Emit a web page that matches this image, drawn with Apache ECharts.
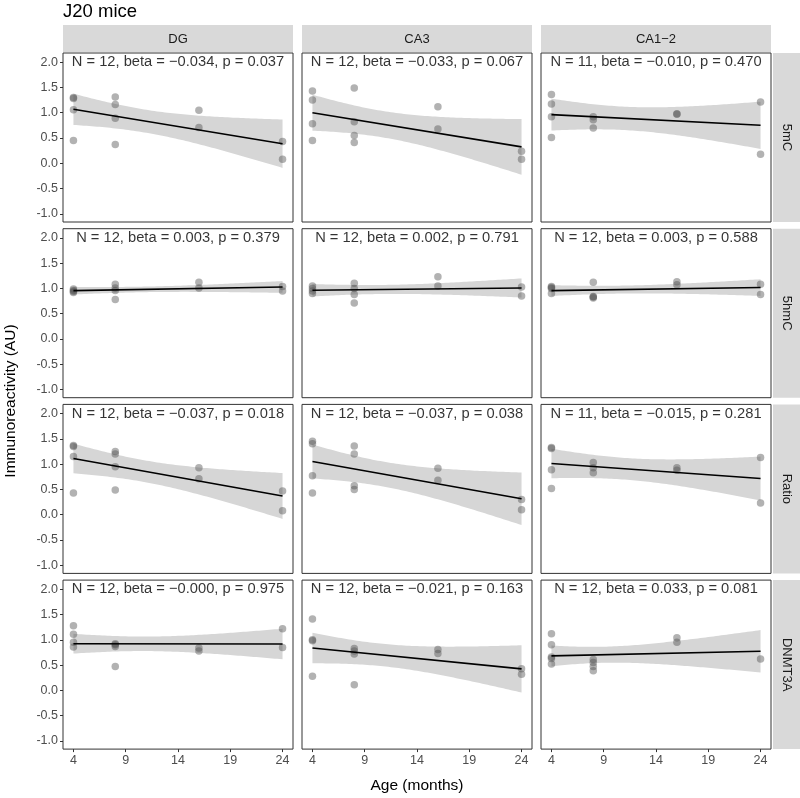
<!DOCTYPE html>
<html><head><meta charset="utf-8">
<script src="https://cdn.jsdelivr.net/npm/echarts@6/dist/echarts.min.js"></script>
<style>html,body{margin:0;padding:0;background:#fff}#c{width:800px;height:798px}</style>
</head><body><div id="c"></div>
<script>
// ---------------- data ----------------
const regions = ['DG', 'CA3', 'CA1\u22122'];
const markers = ['5mC', '5hmC', 'Ratio', 'DNMT3A'];
const xTicks = [4, 9, 14, 19, 24];
const yTicks = [-1, -0.5, 0, 0.5, 1, 1.5, 2];

const age12 = [4, 4, 4, 4, 8, 8, 8, 8, 16, 16, 24, 24];
const age11 = [4, 4, 4, 4, 8, 8, 8, 16, 16, 24, 24];
const ageDnmtCA12 = [4, 4, 4, 4, 4, 8, 8, 8, 8, 16, 16, 24];

const dg_5mC   = [1.30, 1.28, 1.06, 0.45, 1.31, 1.16, 0.89, 0.37, 1.05, 0.71, 0.43, 0.08];
const ca3_5mC  = [1.43, 1.25, 0.78, 0.45, 1.49, 0.82, 0.55, 0.41, 1.12, 0.68, 0.24, 0.08];
const ca12_5mC = [1.36, 1.17, 0.92, 0.51, 0.92, 0.86, 0.70, 0.98, 0.97, 1.21, 0.18];

const dg_5hmC   = [0.99, 0.96, 0.94, 0.92, 1.08, 1.01, 0.96, 0.78, 1.12, 1.01, 1.04, 0.95];
const ca3_5hmC  = [1.05, 1.00, 0.95, 0.90, 1.10, 1.00, 0.88, 0.71, 1.23, 1.05, 1.03, 0.85];
const ca12_5hmC = [1.04, 1.02, 1.00, 0.90, 1.12, 0.84, 0.83, 0.81, 1.13, 1.07, 1.08, 0.88];

const dg_ratio   = [1.37, 1.35, 1.15, 0.43, 1.25, 1.20, 0.95, 0.49, 0.93, 0.71, 0.47, 0.08];
const ca3_ratio  = [1.45, 1.40, 0.77, 0.43, 1.36, 1.20, 0.57, 0.50, 0.92, 0.68, 0.30, 0.10];
const ca12_ratio = [1.33, 1.31, 0.89, 0.52, 1.03, 0.93, 0.83, 0.93, 0.88, 1.13, 0.23];

const dg_dnmt3a   = [1.28, 1.11, 0.95, 0.86, 0.92, 0.90, 0.87, 0.47, 0.84, 0.78, 1.22, 0.85];
const ca3_dnmt3a  = [1.41, 1.00, 0.98, 0.28, 0.83, 0.78, 0.72, 0.11, 0.81, 0.73, 0.43, 0.32];
const ca12_dnmt3a = [1.12, 0.90, 0.66, 0.63, 0.52, 0.61, 0.55, 0.47, 0.39, 1.04, 0.95, 0.62];

const statText = [
  ['N = 12, beta = \u22120.034, p = 0.037', 'N = 12, beta = \u22120.033, p = 0.067', 'N = 11, beta = \u22120.010, p = 0.470'],
  ['N = 12, beta = 0.003, p = 0.379', 'N = 12, beta = 0.002, p = 0.791', 'N = 12, beta = 0.003, p = 0.588'],
  ['N = 12, beta = \u22120.037, p = 0.018', 'N = 12, beta = \u22120.037, p = 0.038', 'N = 11, beta = \u22120.015, p = 0.281'],
  ['N = 12, beta = \u22120.000, p = 0.975', 'N = 12, beta = \u22120.021, p = 0.163', 'N = 12, beta = 0.033, p = 0.081']
];

const panelData = [
  [[age12, dg_5mC], [age12, ca3_5mC], [age11, ca12_5mC]],
  [[age12, dg_5hmC], [age12, ca3_5hmC], [age12, ca12_5hmC]],
  [[age12, dg_ratio], [age12, ca3_ratio], [age11, ca12_ratio]],
  [[age12, dg_dnmt3a], [age12, ca3_dnmt3a], [ageDnmtCA12, ca12_dnmt3a]]
];

// t quantiles (0.975) by residual degrees of freedom
const T975 = {9: 2.262, 10: 2.228};

// ---------------- layout ----------------
const PL = [63, 302, 541];
const PW = 230;
const PT = [53, 228.7, 404.4, 580.1];
const PH = 169;
const XMIN = 3, XMAX = 25, YMIN = -1.16, YMAX = 2.18;
const FONT = '"Liberation Sans", Arial, Helvetica, sans-serif';

function lmFit(xs, ys) {
  const n = xs.length;
  const mx = xs.reduce((a, b) => a + b, 0) / n;
  const my = ys.reduce((a, b) => a + b, 0) / n;
  let sxx = 0, sxy = 0;
  for (let i = 0; i < n; i++) { sxx += (xs[i] - mx) ** 2; sxy += (xs[i] - mx) * (ys[i] - my); }
  const b = sxy / sxx, a = my - b * mx;
  let rss = 0;
  for (let i = 0; i < n; i++) rss += (ys[i] - a - b * xs[i]) ** 2;
  const s = Math.sqrt(rss / (n - 2));
  const t = T975[n - 2];
  return {
    f: x => a + b * x,
    hw: x => t * s * Math.sqrt(1 / n + (x - mx) ** 2 / sxx)
  };
}

const grids = [], xAxes = [], yAxes = [], series = [], graphics = [];
let idx = 0;
for (let r = 0; r < 4; r++) {
  for (let c = 0; c < 3; c++) {
    const [xs, ys] = panelData[r][c];
    grids.push({left: PL[c], top: PT[r], width: PW, height: PH, show: true,
      borderColor: '#333333', borderWidth: 1, backgroundColor: '#fff', containLabel: false});
    const bottomRow = r === 3, leftCol = c === 0;
    xAxes.push({type: 'value', gridIndex: idx, min: XMIN, max: XMAX, position: 'bottom',
      splitLine: {show: false}, axisLine: {show: false, onZero: false},
      axisTick: {show: bottomRow, customValues: xTicks, length: 3, lineStyle: {color: '#333333'}},
      axisLabel: {show: bottomRow, customValues: xTicks, margin: 5, fontSize: 12.5, color: '#4D4D4D', fontFamily: FONT}
    });
    yAxes.push({type: 'value', gridIndex: idx, min: YMIN, max: YMAX, position: 'left',
      splitLine: {show: false}, axisLine: {show: false, onZero: false},
      axisTick: {show: leftCol, customValues: yTicks, length: 3, lineStyle: {color: '#333333'}},
      axisLabel: {show: leftCol, customValues: yTicks, margin: 5, fontSize: 12.5, color: '#4D4D4D', fontFamily: FONT,
        formatter: v => v.toFixed(1)}
    });
    const m = lmFit(xs, ys);
    const upper = [], lower = [];
    const NS = 80;
    for (let k = 0; k <= NS; k++) {
      const x = 4 + 20 * k / NS;
      upper.push([x, m.f(x) + m.hw(x)]);
      lower.push([x, m.f(x) - m.hw(x)]);
    }
    series.push({type: 'custom', xAxisIndex: idx, yAxisIndex: idx, silent: true, z: 1,
      data: [[4, m.f(4)]],
      renderItem: (params, api) => {
        const pts = upper.map(p => api.coord(p)).concat(lower.slice().reverse().map(p => api.coord(p)));
        return {type: 'polygon', shape: {points: pts}, style: {fill: '#D6D6D6'}};
      }
    });
    series.push({type: 'scatter', xAxisIndex: idx, yAxisIndex: idx, silent: true, z: 2,
      symbolSize: 7.5, itemStyle: {color: 'rgba(80,80,80,0.55)'},
      data: xs.map((x, i) => [x, ys[i]])
    });
    series.push({type: 'line', xAxisIndex: idx, yAxisIndex: idx, silent: true, z: 3,
      symbol: 'none', lineStyle: {color: '#000', width: 1.6},
      data: [[4, m.f(4)], [24, m.f(24)]]
    });
    series.push({type: 'scatter', xAxisIndex: idx, yAxisIndex: idx, silent: true, z: 4,
      symbolSize: 1, itemStyle: {color: 'rgba(0,0,0,0)'},
      label: {show: true, position: 'inside', formatter: statText[r][c], fontSize: 14.7, color: '#000', fontFamily: FONT},
      data: [[14, 2.0]]
    });
    idx++;
  }
}

// column strips
for (let c = 0; c < 3; c++) {
  graphics.push({type: 'rect', shape: {x: PL[c], y: 25, width: PW, height: 27}, style: {fill: '#D9D9D9'}, silent: true});
  graphics.push({type: 'text', x: PL[c] + PW / 2, y: 39, style: {text: regions[c], fill: '#1A1A1A', font: '13px ' + FONT, textAlign: 'center', textVerticalAlign: 'middle'}, silent: true});
}
// row strips
for (let r = 0; r < 4; r++) {
  graphics.push({type: 'rect', shape: {x: 773, y: PT[r], width: 27, height: PH}, style: {fill: '#D9D9D9'}, silent: true});
  graphics.push({type: 'text', x: 786.5, y: PT[r] + PH / 2, rotation: -Math.PI / 2,
    style: {text: markers[r], fill: '#1A1A1A', font: '13px ' + FONT, textAlign: 'center', textVerticalAlign: 'middle'}, silent: true});
}
// titles
graphics.push({type: 'text', x: 63, y: 12, style: {text: 'J20 mice', fill: '#000', font: '18.5px ' + FONT, textAlign: 'left', textVerticalAlign: 'middle'}, silent: true});
graphics.push({type: 'text', x: 417, y: 786, style: {text: 'Age (months)', fill: '#000', font: '15.5px ' + FONT, textAlign: 'center', textVerticalAlign: 'middle'}, silent: true});
graphics.push({type: 'text', x: 11, y: 401, rotation: Math.PI / 2, style: {text: 'Immunoreactivity (AU)', fill: '#000', font: '15.5px ' + FONT, textAlign: 'center', textVerticalAlign: 'middle'}, silent: true});

const chart = echarts.init(document.getElementById('c'), null, {renderer: 'canvas'});
chart.setOption({
  animation: false,
  backgroundColor: '#fff',
  grid: grids, xAxis: xAxes, yAxis: yAxes, series: series, graphic: graphics
});
</script></body></html>
